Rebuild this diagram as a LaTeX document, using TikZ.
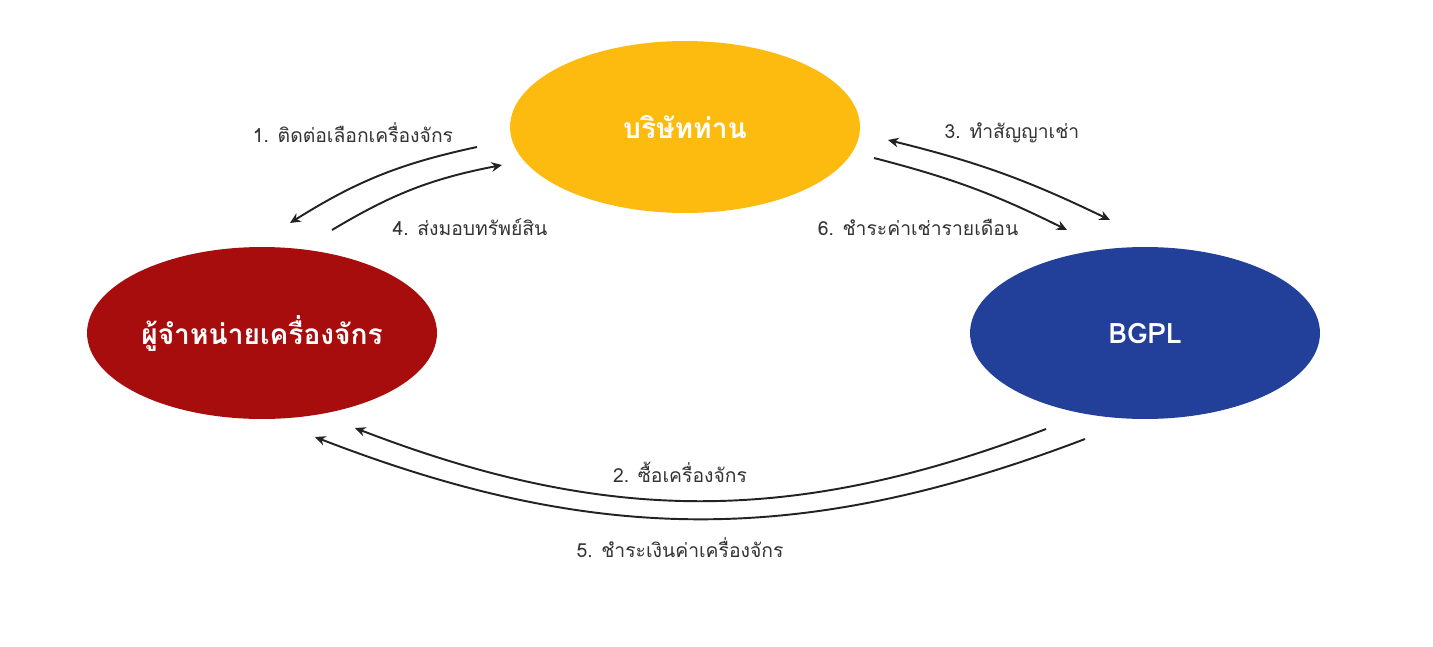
\documentclass[tikz,border=0pt]{standalone}
\usepackage{fontspec}
\setmainfont{Liberation Sans}
\newfontfamily\thai[Script=Thai]{Loma}
\usetikzlibrary{shapes.geometric,arrows.meta}
\definecolor{cyellow}{HTML}{FDBB0F}
\definecolor{cred}{HTML}{A70D0D}
\definecolor{cblue}{HTML}{22409A}
\definecolor{ctext}{HTML}{333333}
\definecolor{carrow}{HTML}{222222}
\tikzset{
  party/.style={ellipse, minimum width=7cm, minimum height=3.44cm, inner sep=0pt,
     text=white, font=\thai\fontsize{16}{19}\selectfont\bfseries},
  lbl/.style={text=ctext, font=\thai\fontsize{11}{13}\selectfont, inner sep=0pt},
  flow/.style={draw=carrow, line width=1.1pt, -{Stealth[length=6pt,width=5.5pt]}},
  flowboth/.style={draw=carrow, line width=1.1pt, {Stealth[length=6pt,width=5.5pt]}-{Stealth[length=6pt,width=5.5pt]}}
}
\begin{document}
\begin{tikzpicture}[x=0.02cm,y=-0.02cm]
\useasboundingbox[fill=white] (0,0) rectangle (1433,646);
% parties
\node[party, fill=cyellow] (you) at (685,127) {บริษัทท่าน};
\node[party, fill=cred] (dealer) at (262,333) {ผู้จำหน่ายเครื่องจักร};
\node[party, fill=cblue] (bgpl) at (1145,333) {BGPL};
% connector end points
\coordinate (a1s) at (477,147);
\coordinate (a1e) at (290,223);
\coordinate (a4s) at (332,230);
\coordinate (a4e) at (502,165);
\coordinate (a3s) at (888,140);
\coordinate (a3e) at (1110,220);
\coordinate (a6s) at (874,158);
\coordinate (a6e) at (1067,230);
\coordinate (a2s) at (1046,429);
\coordinate (a2e) at (355,428);
\coordinate (a5s) at (1085,439);
\coordinate (a5e) at (315,437);
% connectors
\draw[flow] (a1s) to[bend right=10] (a1e);
\draw[flow] (a4s) to[bend left=10] (a4e);
\draw[flowboth] (a3s) to[bend left=6] (a3e);
\draw[flow] (a6s) to[bend left=6] (a6e);
\draw[flow] (a2s) to[bend left=21] (a2e);
\draw[flow] (a5s) to[bend left=21] (a5e);
% labels
\node[lbl] (l1) at (353,133) {1. ติดต่อเลือกเครื่องจักร};
\node[lbl] (l4) at (470,227) {4. ส่งมอบทรัพย์สิน};
\node[lbl] (l3) at (1012,133) {3. ทำสัญญาเช่า};
\node[lbl] (l6) at (918,227) {6. ชำระค่าเช่ารายเดือน};
\node[lbl] (l2) at (680,472) {2. ซื้อเครื่องจักร};
\node[lbl] (l5) at (680,548) {5. ชำระเงินค่าเครื่องจักร};
\end{tikzpicture}
\end{document}
